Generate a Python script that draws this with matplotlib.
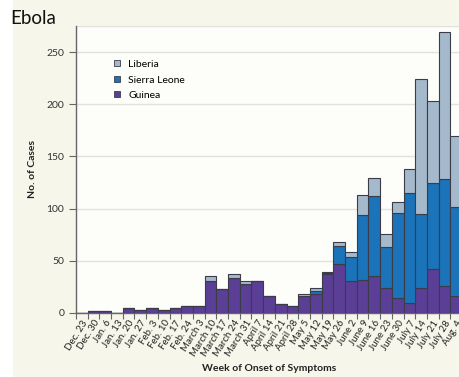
import numpy as np
import matplotlib.pyplot as plt
from matplotlib.patches import Rectangle
from matplotlib.lines import Line2D

weeks = ['Dec. 23', 'Dec. 30', 'Jan. 6', 'Jan. 13', 'Jan. 20', 'Jan. 27', 'Feb. 3',
         'Feb. 10', 'Feb. 17', 'Feb. 24', 'March 3', 'March 10', 'March 17',
         'March 24', 'March 31', 'April 7', 'April 14', 'April 21', 'April 28',
         'May 5', 'May 12', 'May 19', 'May 26', 'June 2', 'June 9', 'June 16',
         'June 23', 'June 30', 'July 7', 'July 14', 'July 21', 'July 28', 'Aug. 4']
guinea = [0, 2, 2, 0, 5, 3, 5, 3, 5, 7, 7, 31, 23, 34, 28, 31, 16, 9, 7,
          16, 18, 37, 47, 31, 32, 35, 24, 14, 10, 24, 42, 26, 16]
sierra_leone = [0, 0, 0, 0, 0, 0, 0, 0, 0, 0, 0, 0, 0, 0, 0, 0, 0, 0, 0,
                0, 3, 1, 17, 23, 62, 77, 39, 82, 105, 71, 83, 102, 86]
liberia = [0, 0, 0, 0, 0, 0, 0, 0, 0, 0, 0, 4, 0, 3, 3, 0, 0, 0, 0,
           2, 3, 1, 4, 4, 19, 17, 13, 10, 23, 129, 78, 141, 68]

c_guinea = '#5b3f96'
c_sl = '#1b74b9'
c_lib = '#a5b9cc'
edge = '#3c3c48'

fig = plt.figure(figsize=(4.59, 3.77), dpi=100)
fig.patch.set_facecolor('white')
fig.patches.append(Rectangle((13 / 459, 0), 1, 1, transform=fig.transFigure,
                             facecolor='#f6f6ea', edgecolor='none', zorder=-10))

ax = fig.add_axes([76 / 459, 64 / 377, 386 / 459, 287 / 377])
ax.set_facecolor('#fdfdf9')

x = np.arange(len(weeks))
g = np.array(guinea)
s = np.array(sierra_leone)
l = np.array(liberia)
kw = dict(width=1, align='edge', edgecolor=edge, linewidth=0.8, zorder=3)
ax.bar(x, g, color=c_guinea, **kw)
ax.bar(x, s, bottom=g, color=c_sl, **kw)
ax.bar(x, l, bottom=g + s, color=c_lib, **kw)

ax.set_xlim(0, 33)
ax.set_ylim(0, 275)
ax.set_yticks([0, 50, 100, 150, 200, 250])
for yv in [50, 100, 150, 200, 250, 275]:
    ax.axhline(yv, color='#e2e2dc', linewidth=1.0, zorder=1)

ax.set_xticks(x + 0.5)
ax.set_xticklabels(weeks, rotation=58, ha='right', rotation_mode='anchor',
                   fontsize=7, family='Lato', color='#222222')
ax.set_xticks(x, minor=True)
ax.tick_params(axis='x', which='major', length=0, pad=4)
ax.tick_params(axis='x', which='minor', length=4, color='#666666', width=0.8)
ax.tick_params(axis='y', length=5, color='#666666', width=0.8, labelsize=7.5,
               labelcolor='#333333')
for lab in ax.get_yticklabels():
    lab.set_family('Lato')

for side in ['top', 'right']:
    ax.spines[side].set_visible(False)
for side in ['left', 'bottom']:
    ax.spines[side].set_color('#666666')
    ax.spines[side].set_linewidth(1.0)

ax.set_ylabel('No. of Cases', fontsize=7.5, fontweight='bold', family='Lato',
              color='#222222', labelpad=7)
ax.set_xlabel('Week of Onset of Symptoms', fontsize=7.5, fontweight='bold',
              family='Lato', color='#222222', labelpad=4)

handles = [Line2D([], [], marker='s', linestyle='none', markersize=4.5,
                  markerfacecolor=c, markeredgecolor=edge, markeredgewidth=0.6)
           for c in [c_lib, c_sl, c_guinea]]
ax.legend(handles, ['Liberia', 'Sierra Leone', 'Guinea'], loc='upper left',
          bbox_to_anchor=(0.055, 0.915), frameon=False, handletextpad=0.1,
          labelspacing=0.6, prop={'family': 'Lato', 'size': 7.5})

fig.text(10 / 459, 1 - 18 / 377, 'Ebola', fontsize=13.5, family='Lato',
         va='center', ha='left', color='#111111')

fig.savefig('out.png', dpi=100, facecolor=fig.get_facecolor())
